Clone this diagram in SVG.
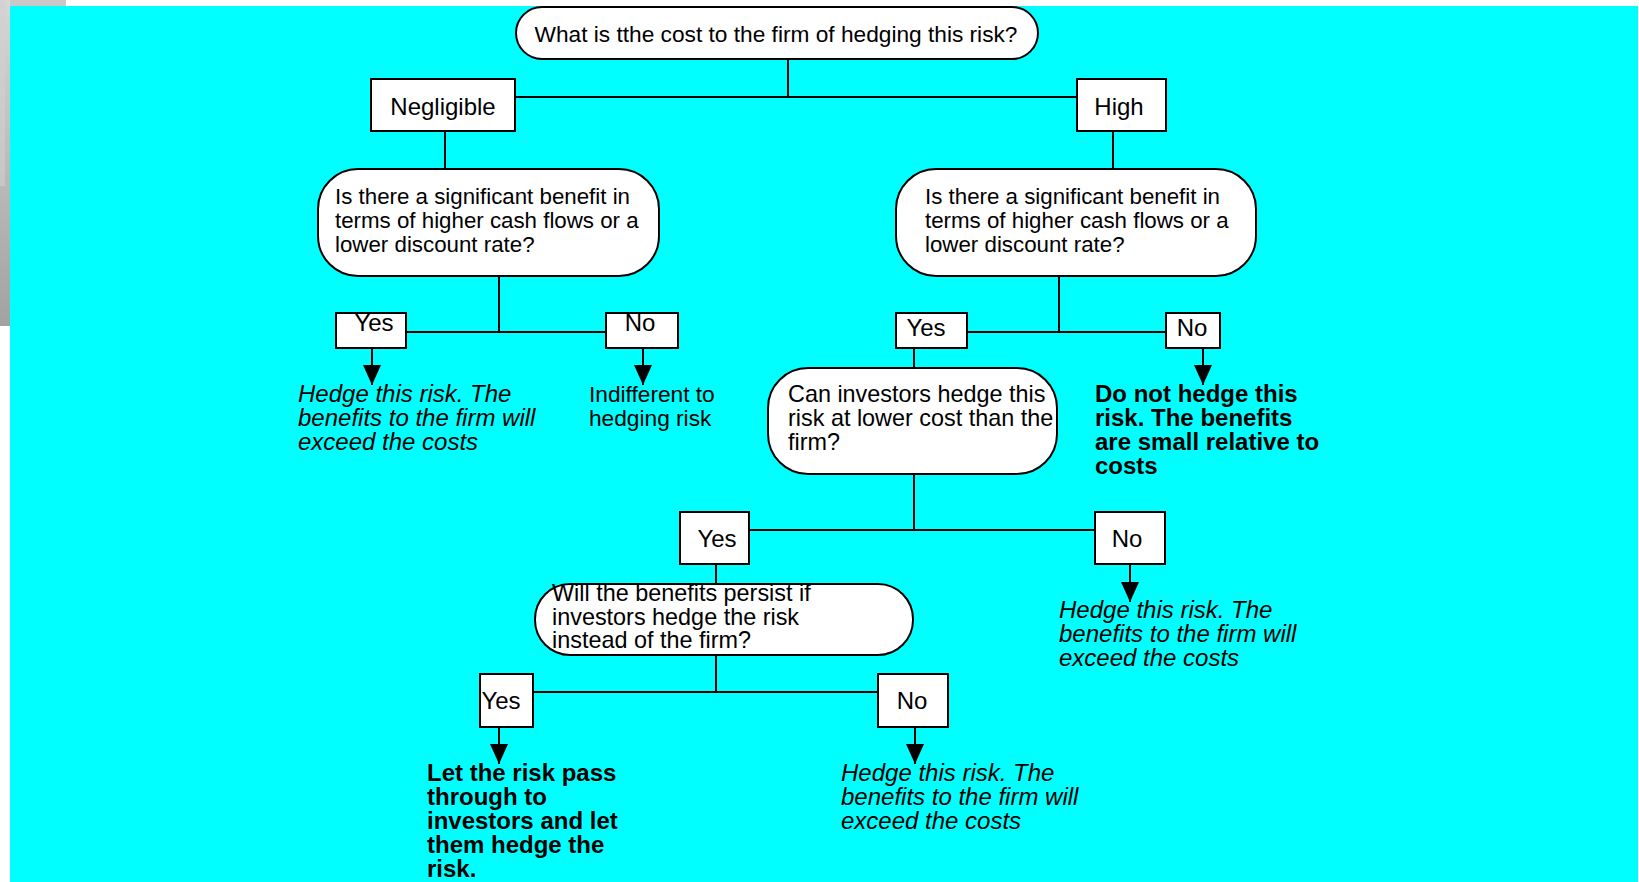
<svg xmlns="http://www.w3.org/2000/svg" width="1639" height="882" viewBox="0 0 1639 882">
<defs>
<linearGradient id="gr" x1="0" y1="0" x2="0" y2="1">
<stop offset="0" stop-color="#d6d6d6"/>
<stop offset="1" stop-color="#a2a2a2"/>
</linearGradient>
<marker id="ah" viewBox="0 0 20 18" refX="20" refY="9" markerWidth="20" markerHeight="18" orient="auto" markerUnits="userSpaceOnUse">
<path d="M0 0 L20 9 L0 18 z" fill="#000"/>
</marker>
<style>
.bx{fill:#fff;stroke:#000;stroke-width:2}
.t{font-family:"Liberation Sans",Arial,Helvetica,sans-serif;font-size:24px;fill:#000}
.c{text-anchor:middle}
.i{font-style:italic}
.b{font-weight:bold}
.q1{font-size:22.3px}
.q2{font-size:23.4px}
.ln{fill:none;stroke:#000;stroke-width:2}
</style>
</defs>
<rect x="0" y="0" width="1639" height="882" fill="#fff"/>
<rect x="0" y="0" width="66" height="6" fill="#c8c8c8"/>
<rect x="0" y="0" width="10" height="326" fill="url(#gr)"/>
<rect x="0" y="0" width="5" height="186" fill="#d0d0d0" opacity="0.6"/>
<rect x="10" y="6" width="1628" height="876" fill="#00ffff"/>

<g id="connectors">
<path class="ln" d="M788 59 V97 M515 97 H1077"/>
<path class="ln" d="M445 131 V169 M1113 131 V169"/>
<path class="ln" d="M499 276 V332 M406 332 H606"/>
<path class="ln" d="M1059 276 V332 M967 332 H1166"/>
<path class="ln" d="M914 348 V368"/>
<path class="ln" d="M914 474 V530 M749 530 H1095"/>
<path class="ln" d="M716 564 V584"/>
<path class="ln" d="M716 655 V692 M533 692 H878"/>
<path class="ln" marker-end="url(#ah)" d="M372 348 V385"/>
<path class="ln" marker-end="url(#ah)" d="M643 348 V385"/>
<path class="ln" marker-end="url(#ah)" d="M1203 348 V385"/>
<path class="ln" marker-end="url(#ah)" d="M1130 564 V602"/>
<path class="ln" marker-end="url(#ah)" d="M499 727 V764"/>
<path class="ln" marker-end="url(#ah)" d="M915 727 V764"/>
</g>

<g id="top">
<rect class="bx" x="516" y="7" width="522" height="52" rx="26"/>
<text class="t c" x="776" y="42" style="font-size:22.7px">What is tthe cost to the firm of hedging this risk?</text>
</g>
<g id="negligible">
<rect class="bx" x="371" y="79" width="144" height="52"/>
<text class="t c" x="443" y="115">Negligible</text>
</g>
<g id="high">
<rect class="bx" x="1077" y="79" width="89" height="52"/>
<text class="t c" x="1119" y="115">High</text>
</g>
<g id="q-benefit-left">
<rect class="bx" x="318" y="169" width="341" height="107" rx="40"/>
<text class="t q1" x="335" y="204">Is there a significant benefit in</text>
<text class="t q1" x="335" y="228">terms of higher cash flows or a</text>
<text class="t q1" x="335" y="252">lower discount rate?</text>
</g>
<g id="q-benefit-right">
<rect class="bx" x="896" y="169" width="360" height="107" rx="40"/>
<text class="t q1" x="925" y="204">Is there a significant benefit in</text>
<text class="t q1" x="925" y="228">terms of higher cash flows or a</text>
<text class="t q1" x="925" y="252">lower discount rate?</text>
</g>
<g id="yes-left">
<rect class="bx" x="336" y="313" width="70" height="35"/>
<text class="t c" x="374" y="331">Yes</text>
</g>
<g id="no-left">
<rect class="bx" x="606" y="313" width="72" height="35"/>
<text class="t c" x="640" y="331">No</text>
</g>
<g id="yes-right">
<rect class="bx" x="896" y="313" width="71" height="35"/>
<text class="t c" x="926" y="336">Yes</text>
</g>
<g id="no-right">
<rect class="bx" x="1166" y="313" width="54" height="35"/>
<text class="t c" x="1192" y="336">No</text>
</g>
<g id="result-left-yes">
<text class="t i" x="298" y="402">Hedge this risk. The</text>
<text class="t i" x="298" y="426">benefits to the firm will</text>
<text class="t i" x="298" y="450">exceed the costs</text>
</g>
<g id="result-left-no">
<text class="t" x="589" y="402" style="font-size:22.7px">Indifferent to</text>
<text class="t" x="589" y="426" style="font-size:22.7px">hedging risk</text>
</g>
<g id="result-right-no">
<text class="t b" x="1095" y="402">Do not hedge this</text>
<text class="t b" x="1095" y="426">risk. The benefits</text>
<text class="t b" x="1095" y="450">are small relative to</text>
<text class="t b" x="1095" y="474">costs</text>
</g>
<g id="q-investors">
<rect class="bx" x="768" y="368" width="289" height="106" rx="40"/>
<text class="t q2" x="788" y="402">Can investors hedge this</text>
<text class="t q2" x="788" y="426">risk at lower cost than the</text>
<text class="t q2" x="788" y="450">firm?</text>
</g>
<g id="yes-2">
<rect class="bx" x="680" y="512" width="69" height="52"/>
<text class="t c" x="717" y="547">Yes</text>
</g>
<g id="no-2">
<rect class="bx" x="1095" y="512" width="70" height="52"/>
<text class="t c" x="1127" y="547">No</text>
</g>
<g id="result-2-no">
<text class="t i" x="1059" y="618">Hedge this risk. The</text>
<text class="t i" x="1059" y="642">benefits to the firm will</text>
<text class="t i" x="1059" y="666">exceed the costs</text>
</g>
<g id="q-persist">
<rect class="bx" x="535" y="584" width="378" height="71" rx="35"/>
<text class="t q2" x="552" y="601">Will the benefits persist if</text>
<text class="t q2" x="552" y="625">investors hedge the risk</text>
<text class="t q2" x="552" y="648">instead of the firm?</text>
</g>
<g id="yes-3">
<rect class="bx" x="480" y="674" width="53" height="53"/>
<text class="t c" x="501" y="709">Yes</text>
</g>
<g id="no-3">
<rect class="bx" x="878" y="674" width="70" height="53"/>
<text class="t c" x="912" y="709">No</text>
</g>
<g id="result-3-yes">
<text class="t b" x="427" y="781">Let the risk pass</text>
<text class="t b" x="427" y="805">through to</text>
<text class="t b" x="427" y="829">investors and let</text>
<text class="t b" x="427" y="853">them hedge the</text>
<text class="t b" x="427" y="877">risk.</text>
</g>
<g id="result-3-no">
<text class="t i" x="841" y="781">Hedge this risk. The</text>
<text class="t i" x="841" y="805">benefits to the firm will</text>
<text class="t i" x="841" y="829">exceed the costs</text>
</g>
</svg>
